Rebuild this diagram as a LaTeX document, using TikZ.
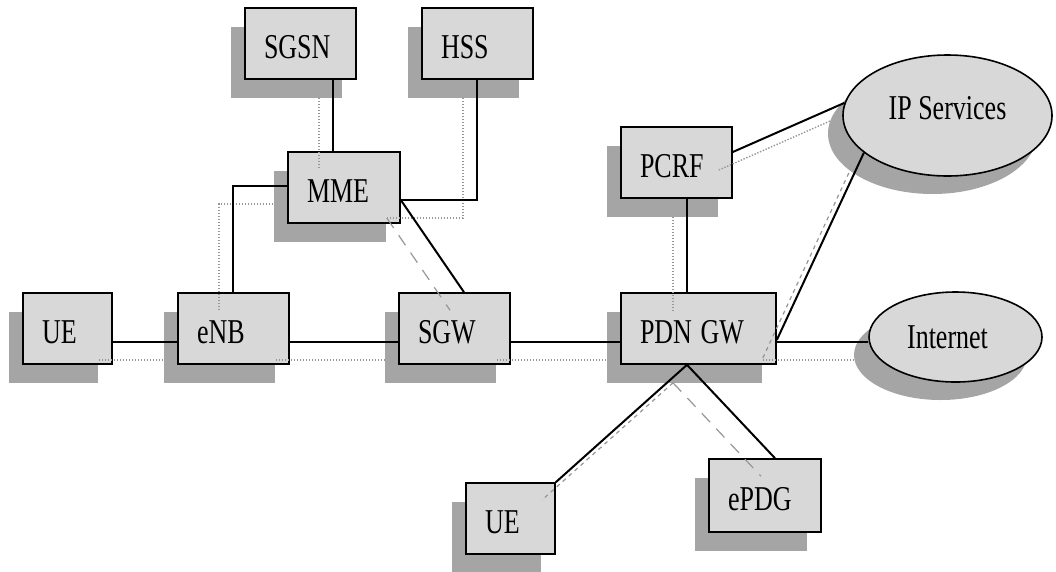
\documentclass[tikz,border=0pt]{standalone}
\usepackage{fontspec}
\setmainfont{Liberation Serif}
\usepackage{graphicx}
\usetikzlibrary{shapes.geometric,shadows,calc}
\definecolor{boxfill}{RGB}{216,216,216}
\definecolor{shadefill}{RGB}{165,165,165}
\definecolor{lshade}{RGB}{150,150,150}
\newcommand{\tall}[1]{\scalebox{1}[1.34]{#1}}
\begin{document}
\begin{tikzpicture}[x=1pt,y=-1pt,
  every node/.style={font=\fontsize{26}{30}\selectfont},
  boxshadow/.style={drop shadow={shadow xshift=-14pt, shadow yshift=-19pt, fill=shadefill, opacity=1}},
  netbox/.style={draw=black, line width=1.6pt, fill=boxfill, rectangle,
    inner xsep=19pt, inner ysep=0pt, minimum height=71pt,
    text height=29pt, text depth=0pt, align=left, boxshadow},
  cloud/.style={draw=black, line width=1.6pt, fill=boxfill, ellipse, inner sep=0pt,
    drop shadow={shadow xshift=-15pt, shadow yshift=-18pt, fill=shadefill, opacity=1}},
  conn/.style={draw=black, line width=2pt},
  lsh/.style={draw=lshade, line width=1.4pt, dash pattern=on 1.4pt off 1.6pt,
    transform canvas={xshift=-14pt, yshift=-18pt}},
  lshd/.style={draw=lshade, line width=1.2pt, dash pattern=on 12pt off 9pt,
    transform canvas={xshift=-14pt, yshift=-18pt}},
  lshs/.style={draw=lshade, line width=1.2pt, dash pattern=on 4pt off 4pt,
    transform canvas={xshift=-14pt, yshift=-18pt}}
]
\useasboundingbox (0,0) rectangle (1056,571);

% nodes
\node[netbox, text width=73pt] (sgsn) at (300.5,43.5) {\tall{SGSN}};
\node[netbox, text width=73pt] (hss)  at (477.5,43.5) {\tall{HSS}};
\node[netbox, text width=74pt] (mme)  at (344,187.5) {\tall{MME}};
\node[netbox, text width=51pt] (ue1)  at (67.5,328.5) {\tall{UE}};
\node[netbox, text width=73pt] (enb)  at (233.5,328.5) {\tall{eNB}};
\node[netbox, text width=73pt] (sgw)  at (454.5,328.5) {\tall{SGW}};
\node[netbox, text width=73pt] (pcrf) at (676.5,162.5) {\tall{PCRF}};
\node[netbox, text width=117pt] (pdn) at (698.5,328.5) {\tall{PDN GW}};
\node[netbox, text width=51pt] (ue2)  at (510.5,518.5) {\tall{UE}};
\node[netbox, text width=74pt, minimum height=73pt] (epdg) at (765,495.5) {\tall{ePDG}};
\node[cloud, minimum width=209pt, minimum height=121pt, text height=23pt, text depth=16pt] (ip) at (947.5,115.5) {\tall{IP Services}};
\node[cloud, minimum width=173pt, minimum height=90pt, text height=23pt, text depth=0pt] (inet) at (955.5,337) {\tall{Internet}\kern16pt};

% helper coordinates
\coordinate (hl) at (0,342);
\coordinate (ve) at (233,0);
\coordinate (vh) at (477,0);
\coordinate (vs) at (333,0);
\coordinate (vp) at (687,0);
\coordinate (ml) at (0,186);
\coordinate (mr) at ($(mme.east)+(0,12.5)$);
\coordinate (sgwt) at ($(sgw.north)+(9.5,0)$);
\coordinate (pcrfr) at ($(pcrf.east)+(0,-10.5)$);
\coordinate (pdnr) at ($(pdn.east)+(0,11.5)$);
\coordinate (pdnb) at (pdn.south -| vp);
\coordinate (epdgt) at ($(epdg.north)+(10,0)$);

% connector shadows
\draw[lsh] (ue1.east |- hl) -- (enb.west |- hl);
\draw[lsh] (enb.east |- hl) -- (sgw.west |- hl);
\draw[lsh] (sgw.east |- hl) -- (pdn.west |- hl);
\draw[lsh] (pdn.east |- hl) -- (inet.west |- hl);
\draw[lsh] (enb.north -| ve) |- (mme.west |- ml);
\draw[lsh] (sgsn.south -| vs) -- (mme.north -| vs);
\draw[lsh] (mr) -| (hss.south -| vh);
\draw[lshd] (mr) -- (sgwt);
\draw[lsh] (pcrf.south -| vp) -- (pdn.north -| vp);
\draw[lsh] (pcrfr) -- (ip.173);
\draw[lshs] (pdnr) -- (ip.204);
\draw[lshs] (pdnb) -- (ue2.north east);
\draw[lshd] (pdnb) -- (epdgt);

% connectors
\draw[conn] (ue1.east |- hl) -- (enb.west |- hl);
\draw[conn] (enb.east |- hl) -- (sgw.west |- hl);
\draw[conn] (sgw.east |- hl) -- (pdn.west |- hl);
\draw[conn] (pdn.east |- hl) -- (inet.west |- hl);
\draw[conn] (enb.north -| ve) |- (mme.west |- ml);
\draw[conn] (sgsn.south -| vs) -- (mme.north -| vs);
\draw[conn] (mr) -| (hss.south -| vh);
\draw[conn] (mr) -- (sgwt);
\draw[conn] (pcrf.south -| vp) -- (pdn.north -| vp);
\draw[conn] (pcrfr) -- (ip.173);
\draw[conn] (pdnr) -- (ip.204);
\draw[conn] (pdnb) -- (ue2.north east);
\draw[conn] (pdnb) -- (epdgt);
\end{tikzpicture}
\end{document}
